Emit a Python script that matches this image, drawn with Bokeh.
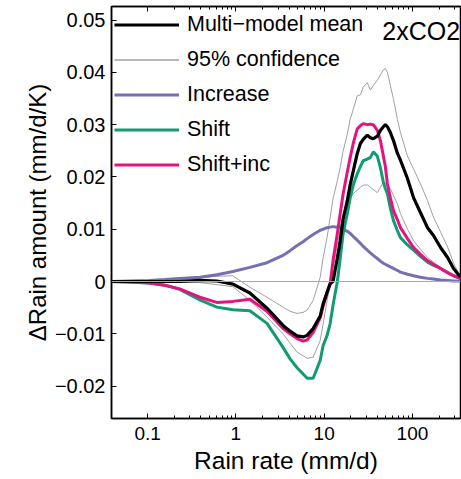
from bokeh.plotting import figure
from bokeh.models import (FixedTicker, LogAxis, Legend, LegendItem, Label, Span, Range1d)
from bokeh.embed import file_html
from bokeh.resources import INLINE

# Rain rate bins (mm/d)
rain_rate = [0.038, 0.0624, 0.105, 0.156, 0.231, 0.39, 0.608, 0.925, 1.44, 2.25,
             3.42, 4.11, 4.93, 5.77, 6.41, 7.50, 9.01, 9.75, 10.8, 11.7,
             12.6, 14.1, 15.2, 16.4, 18.3, 19.7, 21.4, 23.7, 25.7, 27.7,
             30.8, 33.3, 36.0, 40.0, 43.3, 46.8, 49.3, 52.0, 56.2, 60.8,
             67.6, 73.1, 87.8, 103, 123, 148, 173, 208, 250, 292, 351]

mean = [0, 0, 0, 0, 0, 0.0002, 0.0001, -0.0005, -0.0022, -0.0051,
        -0.0084, -0.0095, -0.0104, -0.0106, -0.0103, -0.0090, -0.0066, -0.0042, -0.0020, -0.0004,
        0.0000, 0.0045, 0.0078, 0.0120, 0.0155, 0.0185, 0.0212, 0.0245, 0.0264, 0.0272,
        0.0280, 0.0275, 0.0273, 0.0278, 0.0289, 0.0296, 0.0300, 0.0296, 0.0285, 0.0270,
        0.0245, 0.0232, 0.0197, 0.0160, 0.0132, 0.0103, 0.0088, 0.0065, 0.0046, 0.0025, 0.0008]

ci_upper = [0, 0, 0, 0.0001, 0.0003, 0.0007, 0.0010, 0.0011, -0.0011, -0.0030,
            -0.0049, -0.0057, -0.0061, -0.0059, -0.0055, -0.0036, 0.0008, 0.0046, 0.0085, 0.0123,
            0.0158, 0.0193, 0.0218, 0.0250, 0.0282, 0.0310, 0.0330, 0.0355, 0.0357, 0.0372,
            0.0380, 0.0366, 0.0375, 0.0385, 0.0395, 0.0405, 0.0407, 0.0400, 0.0375, 0.0350,
            0.0310, 0.0285, 0.0240, 0.0215, 0.0187, 0.0155, 0.0123, 0.0095, 0.0066, 0.0035, 0.0009]

ci_lower = [0, 0, 0, 0, -0.0001, -0.0002, -0.0006, -0.0010, -0.0036, -0.0068,
            -0.0100, -0.0118, -0.0135, -0.0142, -0.0147, -0.0145, -0.0113, -0.0080, -0.0036, -0.0005,
            0.0027, 0.0070, 0.0103, 0.0128, 0.0149, 0.0160, 0.0168, 0.0175, 0.0180, 0.0184,
            0.0185, 0.0180, 0.0176, 0.0170, 0.0180, 0.0190, 0.0188, 0.0183, 0.0178, 0.0165,
            0.0148, 0.0130, 0.0100, 0.0078, 0.0062, 0.0046, 0.0037, 0.0027, 0.0018, 0.0011, 0.0006]

increase = [0, 0.0001, 0.0002, 0.0004, 0.0006, 0.0008, 0.0013, 0.0019, 0.0027, 0.0036,
            0.0050, 0.0059, 0.0069, 0.0076, 0.0082, 0.0090, 0.0098, 0.0100, 0.0103, 0.0104,
            0.0105, 0.0104, 0.0103, 0.0100, 0.0096, 0.0092, 0.0086, 0.0079, 0.0073, 0.0067,
            0.0060, 0.0055, 0.0050, 0.0044, 0.0039, 0.0035, 0.0033, 0.0031, 0.0028, 0.0025,
            0.0021, 0.0018, 0.0014, 0.0011, 0.0008, 0.0006, 0.0005, 0.0003, 0.0002, 0.0001, 0.0001]

shift = [0, -0.0001, -0.0003, -0.0007, -0.0015, -0.0035, -0.0049, -0.0054, -0.0056, -0.0080,
         -0.0126, -0.0148, -0.0165, -0.0177, -0.0185, -0.0185, -0.0151, -0.0122, -0.0103, -0.0080,
         -0.0045, 0.0000, 0.0045, 0.0092, 0.0130, 0.0160, 0.0185, 0.0206, 0.0220, 0.0231,
         0.0234, 0.0237, 0.0248, 0.0240, 0.0218, 0.0190, 0.0178, 0.0168, 0.0140, 0.0117,
         0.0097, 0.0084, 0.0070, 0.0060, 0.0048, 0.0037, 0.0031, 0.0025, 0.0017, 0.0011, 0.0006]

shift_inc = [0, -0.0001, -0.0003, -0.0007, -0.0014, -0.0030, -0.0040, -0.0038, -0.0034, -0.0057,
             -0.0090, -0.0100, -0.0109, -0.0114, -0.0112, -0.0097, -0.0070, -0.0046, -0.0022, -0.0004,
             0.0040, 0.0092, 0.0130, 0.0168, 0.0210, 0.0237, 0.0265, 0.0292, 0.0298, 0.0302,
             0.0300, 0.0301, 0.0300, 0.0289, 0.0270, 0.0240, 0.0220, 0.0187, 0.0160, 0.0136,
             0.0118, 0.0103, 0.0082, 0.0065, 0.0052, 0.0040, 0.0033, 0.0025, 0.0017, 0.0011, 0.0006]

x_ticks = [0.1, 1, 10, 100]
x_tick_labels = ["0.1", "1", "10", "100"]
x_minor = [0.2, 0.3, 0.4, 0.5, 0.6, 0.7, 0.8, 0.9, 2, 3, 4, 5, 6, 7, 8, 9,
           20, 30, 40, 50, 60, 70, 80, 90, 200, 300]
y_ticks = [-0.02, -0.01, 0, 0.01, 0.02, 0.03, 0.04, 0.05]
y_tick_labels = ["\u22120.02", "\u22120.01", "0", "0.01", "0.02", "0.03", "0.04", "0.05"]

FONT = "Liberation Sans"

p = figure(width=461, height=479, x_axis_type="log",
           x_range=Range1d(0.039, 350), y_range=Range1d(-0.0262, 0.0526),
           output_backend="svg", toolbar_location=None,
           min_border_left=111, min_border_right=1, min_border_top=6, min_border_bottom=61)

p.xgrid.visible = False
p.ygrid.visible = False
p.outline_line_color = "black"
p.outline_line_width = 1.5
p.background_fill_color = "white"
p.border_fill_color = "white"

p.add_layout(Span(location=0, dimension="width", line_color="#a8a8a8", line_width=1))

r_up = p.line(rain_rate, ci_upper, line_color="#a0a0a0", line_width=1)
r_lo = p.line(rain_rate, ci_lower, line_color="#a0a0a0", line_width=1)
r_inc = p.line(rain_rate, increase, line_color="#7570b3", line_width=3)
r_sh = p.line(rain_rate, shift, line_color="#119b72", line_width=3)
r_si = p.line(rain_rate, shift_inc, line_color="#e6127f", line_width=3)
r_mean = p.line(rain_rate, mean, line_color="black", line_width=3.2)

xt = FixedTicker(ticks=x_ticks, minor_ticks=x_minor)
yt = FixedTicker(ticks=y_ticks, minor_ticks=[])

xa = p.xaxis[0]
xa.ticker = xt
xa.major_label_overrides = dict(zip(x_ticks, x_tick_labels))
ya = p.yaxis[0]
ya.ticker = yt
ya.major_label_overrides = dict(zip(y_ticks, y_tick_labels))

for ax, fs in ((xa, "19px"), (ya, "20px")):
    ax.major_tick_in = 5
    ax.major_tick_out = 0
    ax.minor_tick_in = 3
    ax.minor_tick_out = 0
    ax.axis_line_width = 1.5
    ax.major_tick_line_width = 1
    ax.major_label_text_font = FONT
    ax.major_label_text_font_size = fs
    ax.major_label_text_color = "black"
    ax.axis_label_text_font = FONT
    ax.axis_label_text_font_style = "normal"
    ax.axis_label_text_color = "black"

xa.axis_label = "Rain rate (mm/d)"
xa.axis_label_text_font_size = "24.5px"
xa.major_label_standoff = 8
xa.axis_label_standoff = 4
ya.axis_label = "\u0394Rain amount (mm/d/K)"
ya.axis_label_text_font_size = "24px"
ya.major_label_standoff = 6
ya.axis_label_standoff = 1
ya.minor_tick_line_color = None

top = LogAxis(ticker=xt, major_label_text_font_size="1px", major_label_text_alpha=0,
              major_label_standoff=0,
              major_tick_in=5, major_tick_out=0, minor_tick_in=3, minor_tick_out=0,
              axis_line_width=1.5)
p.add_layout(top, "above")

legend = Legend(items=[
    LegendItem(label="Multi\u2212model mean", renderers=[r_mean]),
    LegendItem(label="95% confidence", renderers=[r_up, r_lo]),
    LegendItem(label="Increase", renderers=[r_inc]),
    LegendItem(label="Shift", renderers=[r_sh]),
    LegendItem(label="Shift+inc", renderers=[r_si]),
], location="top_left")
legend.border_line_alpha = 0
legend.background_fill_alpha = 0
legend.label_text_font = FONT
legend.label_text_font_size = "21.5px"
legend.label_text_color = "black"
legend.glyph_width = 65
legend.glyph_height = 31
legend.label_height = 31
legend.label_standoff = 8
legend.spacing = 4
legend.padding = 3
legend.margin = 0
p.add_layout(legend)

p.add_layout(Label(x=45.6, y=0.0480, text="2xCO2", text_font=FONT,
                   text_font_size="25px", text_baseline="alphabetic", text_color="black"))

open("out.html", "w").write(file_html(p, INLINE))
